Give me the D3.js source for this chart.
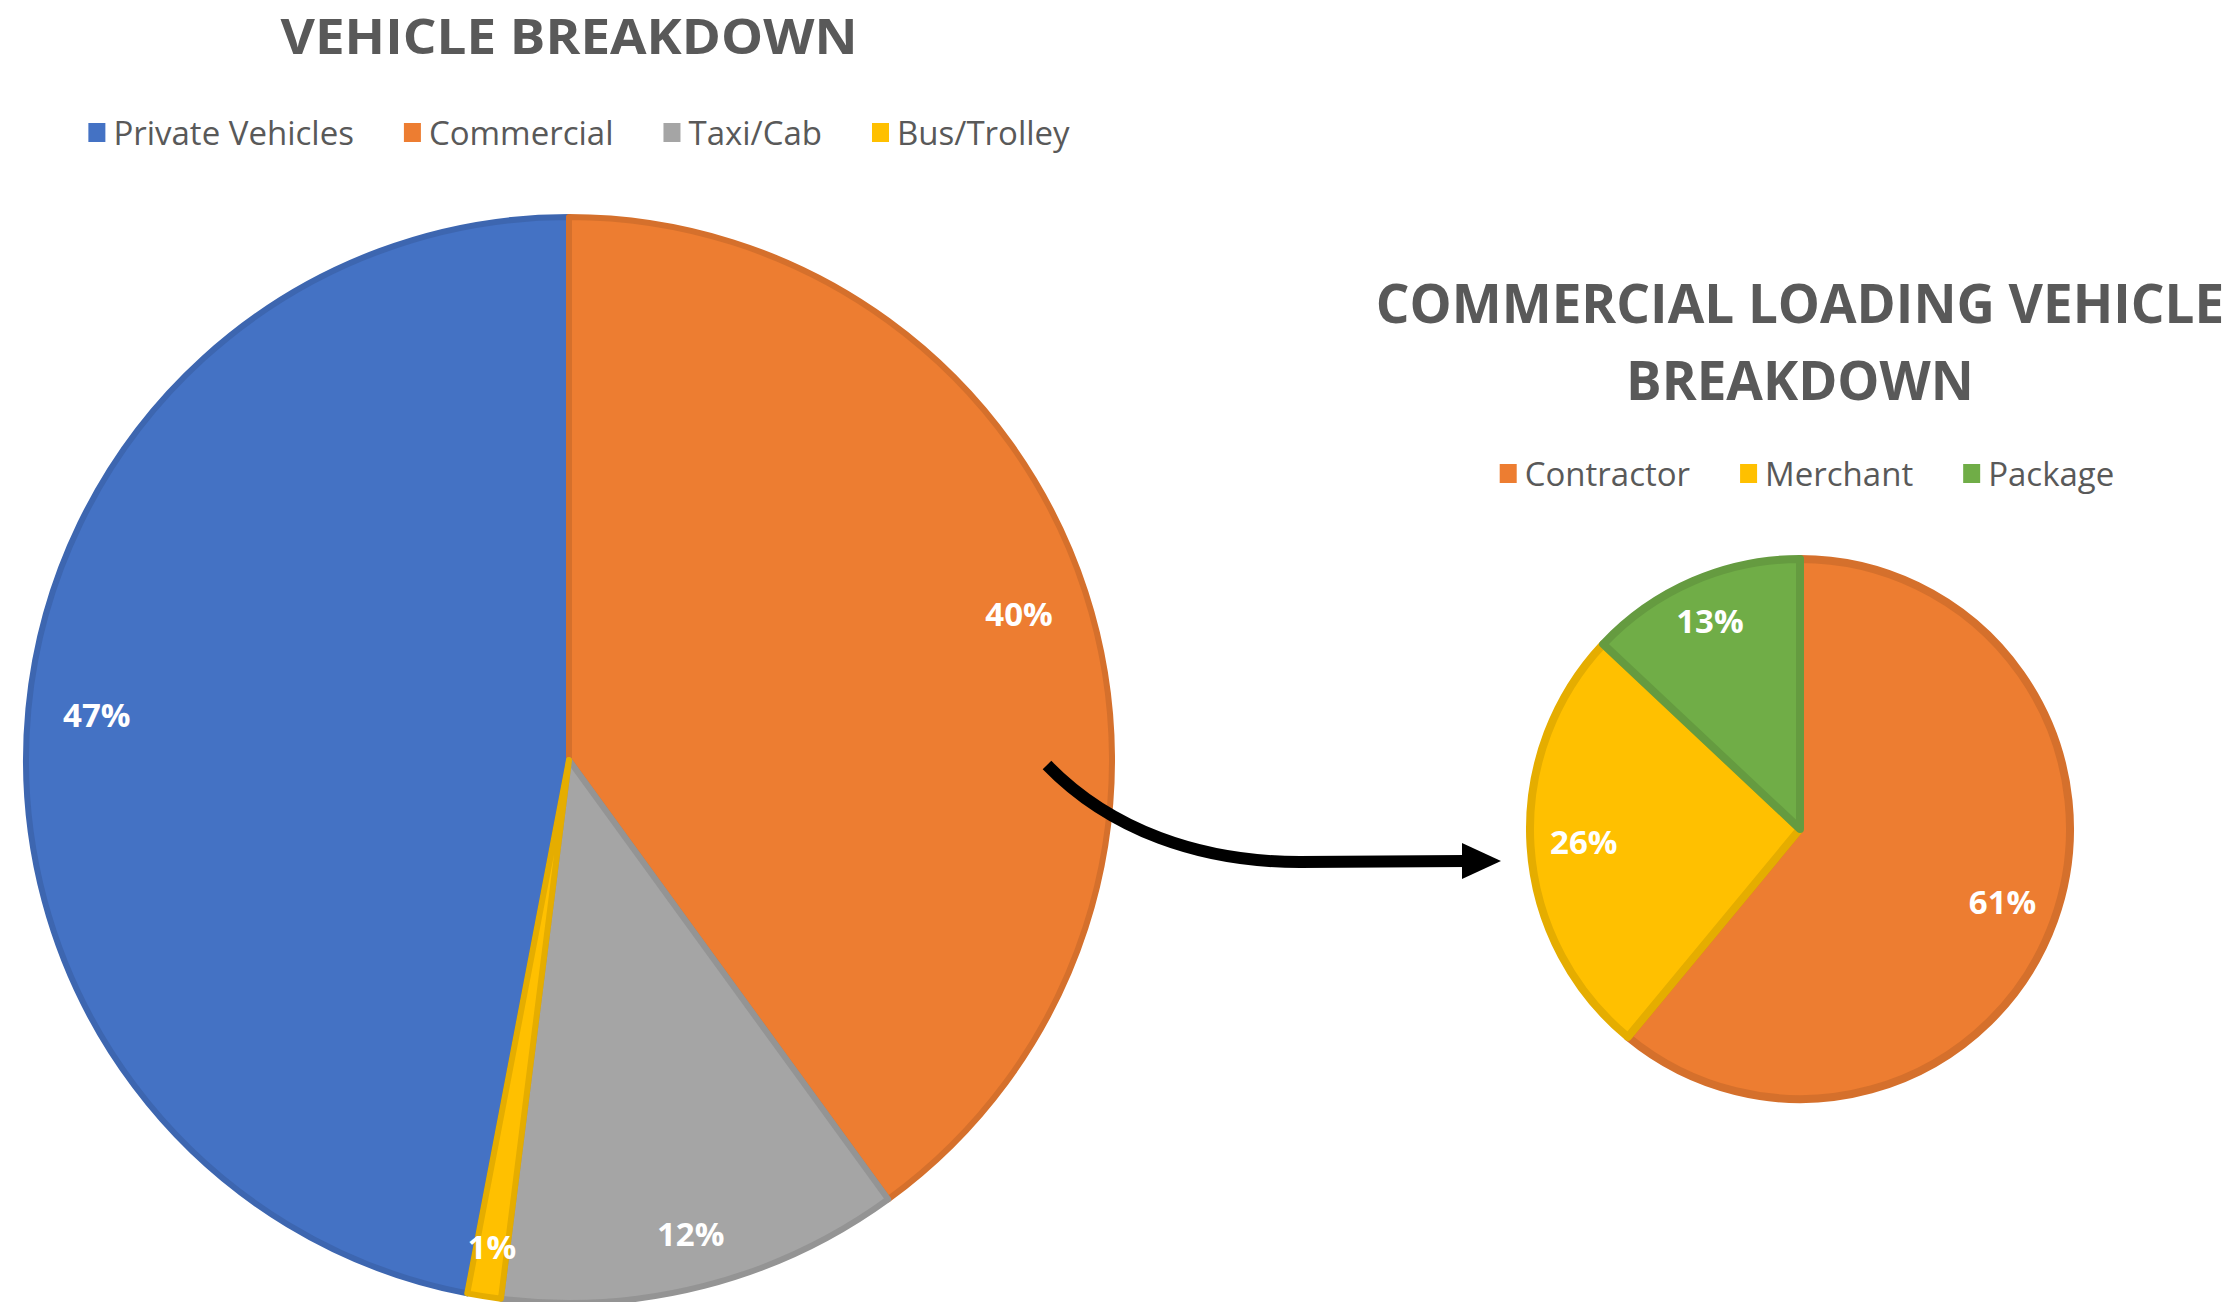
<!DOCTYPE html>
<html>
<head>
<meta charset="utf-8">
<script src="https://cdn.jsdelivr.net/npm/d3@7/dist/d3.min.js"></script>
<style>
  html, body { margin: 0; padding: 0; background: #ffffff; }
  svg { display: block; }
</style>
</head>
<body>
<svg id="chart" width="2240" height="1302"></svg>
<script>
// ---------- DATA ----------
const mainTitle = "VEHICLE BREAKDOWN";
const mainCategories = ["Private Vehicles", "Commercial", "Taxi/Cab", "Bus/Trolley"];
const mainValues = [47, 40, 12, 1];
const mainLabels = ["47%", "40%", "12%", "1%"];

const subTitle = ["COMMERCIAL LOADING VEHICLE", "BREAKDOWN"];
const subCategories = ["Contractor", "Merchant", "Package"];
const subValues = [61, 26, 13];
const subLabels = ["61%", "26%", "13%"];

// ---------- STYLE / LAYOUT ----------
const mainColors = ["#4472C4", "#ED7D31", "#A5A5A5", "#FFC000"];
const subColors = ["#ED7D31", "#FFC000", "#70AD47"];
const textColor = "#595959";
const FONT = "'Open Sans', 'DejaVu Sans', sans-serif";

const W = 2240, H = 1302;
const main = { cx: 569, cy: 760, r: 543, firstAngleDeg: 190.8, stroke: 6, pad: 34 };
const sub = { cx: 1800, cy: 829, r: 270, firstAngleDeg: 0, stroke: 8, pad: 19 };

const svg = d3.select("#chart").attr("viewBox", `0 0 ${W} ${H}`);

// ---------- TITLES ----------
svg.append("text")
  .attr("x", main.cx).attr("y", 54)
  .attr("text-anchor", "middle")
  .attr("font-family", FONT).attr("font-weight", 700).attr("font-size", 49)
  .attr("textLength", 577).attr("lengthAdjust", "spacingAndGlyphs")
  .attr("fill", textColor)
  .text(mainTitle);

subTitle.forEach((t, i) => {
  svg.append("text")
    .attr("x", sub.cx).attr("y", 323 + i * 77)
    .attr("text-anchor", "middle")
    .attr("font-family", FONT).attr("font-weight", 700).attr("font-size", 53)
    .attr("fill", textColor)
    .text(t);
});

// ---------- LEGENDS ----------
function legend(cats, colors, centerX, centerY) {
  const g = svg.append("g");
  const sq = 17, gapSq = 8, gapItem = 50, fs = 33;
  const items = cats.map((c, i) => {
    const ig = g.append("g");
    ig.append("rect").attr("width", sq).attr("height", 19)
      .attr("y", -10).attr("fill", colors[i]);
    const t = ig.append("text")
      .attr("x", sq + gapSq).attr("y", 0).attr("dy", "0.36em")
      .attr("font-family", FONT).attr("font-size", fs)
      .attr("fill", textColor).text(c);
    const w = t.node().getComputedTextLength();
    return { ig, w: sq + gapSq + w };
  });
  const total = d3.sum(items, d => d.w) + gapItem * (items.length - 1);
  let x = centerX - total / 2;
  items.forEach(d => {
    d.ig.attr("transform", `translate(${x},${centerY})`);
    x += d.w + gapItem;
  });
}
legend(mainCategories, mainColors, 579, 133);
legend(subCategories, subColors, 1807, 474);

// ---------- PIES ----------
function drawPie(cfg, values, colors, labels, labelFs) {
  const a0 = cfg.firstAngleDeg * Math.PI / 180;
  const pie = d3.pie().sort(null).value(d => d)
    .startAngle(a0).endAngle(a0 + 2 * Math.PI);
  const arcs = pie(values);
  const arc = d3.arc().innerRadius(0).outerRadius(cfg.r);
  const g = svg.append("g").attr("transform", `translate(${cfg.cx},${cfg.cy})`);
  g.selectAll("path.slice").data(arcs).enter().append("path")
    .attr("class", "slice")
    .attr("d", arc)
    .attr("fill", (d, i) => colors[i])
    .attr("stroke", (d, i) => d3.color(colors[i]).darker(0.3))
    .attr("stroke-width", cfg.stroke)
    .attr("stroke-linejoin", "round");

  // labels: "inside end" placement
  arcs.forEach((d, i) => {
    const t = g.append("text")
      .attr("text-anchor", "middle").attr("dy", "0.36em")
      .attr("font-family", FONT).attr("font-weight", 700)
      .attr("font-size", labelFs).attr("fill", "#ffffff")
      .text(labels[i]);
    const w = t.node().getComputedTextLength();
    const hc = labelFs * 0.72;
    const mid = (d.startAngle + d.endAngle) / 2;
    const sx = Math.sin(mid), sy = -Math.cos(mid);
    const ext = (w / 2) * Math.abs(sx) + (hc / 2) * Math.abs(sy);
    const dist = cfg.r - cfg.pad - ext;
    t.attr("x", sx * dist).attr("y", sy * dist);
  });
}
drawPie(main, mainValues, mainColors, mainLabels, 33);
drawPie(sub, subValues, subColors, subLabels, 33);

// ---------- ARROW (annotation) ----------
const ap = d3.path();
ap.moveTo(1047, 765);
ap.bezierCurveTo(1110, 830, 1200, 862, 1300, 862);
ap.lineTo(1466, 861);
svg.append("path").attr("d", ap.toString())
  .attr("fill", "none").attr("stroke", "#000").attr("stroke-width", 12)
  .attr("stroke-linecap", "butt");
const hp = d3.path();
hp.moveTo(1462, 843);
hp.lineTo(1501, 861);
hp.lineTo(1462, 879);
hp.closePath();
svg.append("path").attr("d", hp.toString()).attr("fill", "#000");
</script>
</body>
</html>
